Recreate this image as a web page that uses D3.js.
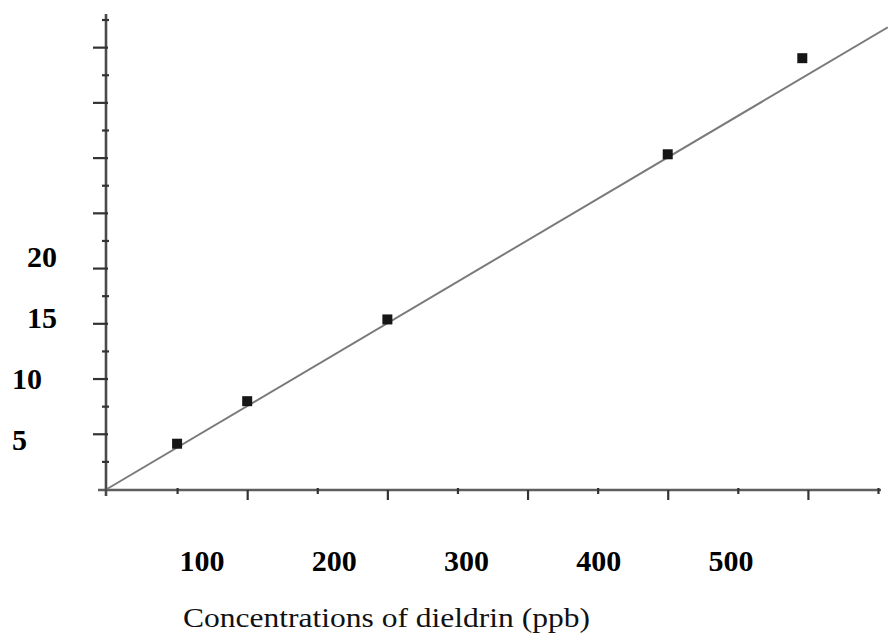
<!DOCTYPE html>
<html>
<head>
<meta charset="utf-8">
<script src="https://cdn.jsdelivr.net/npm/d3@7"></script>
<style>
  html, body { margin: 0; padding: 0; background: #fff; }
  svg { display: block; }
</style>
</head>
<body>
<svg id="chart" width="888" height="641"></svg>
<script>
// ---- data ----
const concentrations = [50, 100, 200, 400, 496];        // ppb
const responses      = [4.1, 7.95, 15.35, 30.3, 39.0];
const fitX = [0, 557];
const fitY = [0, 41.8];
const xMajorTicks = [100, 200, 300, 400, 500];
const xMinorTicks = [50, 150, 250, 350, 450, 550];
const yMajorTicks = [5, 10, 15, 20, 25, 30, 35, 40];
const yMinorTicks = [2.5, 7.5, 12.5, 17.5, 22.5, 27.5, 32.5, 37.5, 42.5];
const xTickLabels = ["100", "200", "300", "400", "500"];
const yTickLabels = ["20", "15", "10", "5"];
const xTitle = "Concentrations of dieldrin (ppb)";

// ---- scales ----
const svg = d3.select("#chart");
const x = d3.scaleLinear().domain([0, 550]).range([107, 878]);
const y = d3.scaleLinear().domain([0, 43]).range([489, 14]);
// the printed labels are offset from the tick marks in the original figure
const xLab = d3.scaleLinear().domain([100, 500]).range([202, 731]);
const yLab = d3.scaleLinear().domain([5, 20]).range([450, 267]);

const axisColor = "#4a4a4a";

// x axis line
svg.append("line")
  .attr("x1", x(0) - 9).attr("x2", x(550) + 3)
  .attr("y1", y(0) + 1).attr("y2", y(0) + 1)
  .attr("stroke", "#5e5e5e").attr("stroke-width", 2.6);

// y axis line
svg.append("line")
  .attr("x1", x(0) - 1).attr("x2", x(0) - 1)
  .attr("y1", y(43)).attr("y2", y(0) + 7)
  .attr("stroke", axisColor).attr("stroke-width", 2.6);

// x ticks
const xAxisMajor = svg.append("g")
  .attr("transform", `translate(0,${y(0) + 1})`)
  .call(d3.axisBottom(x).tickValues(xMajorTicks).tickSize(10).tickFormat(""));
const xAxisMinor = svg.append("g")
  .attr("transform", `translate(0,${y(0) - 1})`)
  .call(d3.axisBottom(x).tickValues(xMinorTicks).tickSize(6).tickFormat(""));

// y ticks
const yAxisMajor = svg.append("g")
  .attr("transform", `translate(${x(0) + 1},0)`)
  .call(d3.axisLeft(y).tickValues(yMajorTicks).tickSize(15).tickFormat(""));
const yAxisMinor = svg.append("g")
  .attr("transform", `translate(${x(0) + 2},0)`)
  .call(d3.axisLeft(y).tickValues(yMinorTicks).tickSize(7).tickFormat(""));

[xAxisMajor, xAxisMinor, yAxisMajor, yAxisMinor].forEach(g => {
  g.select(".domain").remove();
  g.selectAll(".tick line").attr("stroke", "#333").attr("stroke-width", 2.2);
});

// fit line
svg.append("path")
  .datum(fitX.map((v, i) => [v, fitY[i]]))
  .attr("fill", "none")
  .attr("stroke", "#7a7a7a")
  .attr("stroke-width", 2)
  .attr("d", d3.line().x(d => x(d[0])).y(d => y(d[1])));

// points
svg.selectAll("rect.pt")
  .data(concentrations.map((c, i) => ({c, r: responses[i]})))
  .join("rect")
  .attr("class", "pt")
  .attr("x", d => x(d.c) - 5)
  .attr("y", d => y(d.r) - 5)
  .attr("width", 10).attr("height", 10)
  .attr("fill", "#161616");

// x tick labels
svg.selectAll("text.xl")
  .data(xTickLabels)
  .join("text")
  .attr("class", "xl")
  .attr("x", d => xLab(+d))
  .attr("y", 571)
  .attr("text-anchor", "middle")
  .attr("font-family", "'Liberation Serif', 'Times New Roman', serif")
  .attr("font-weight", "bold")
  .attr("font-size", 30)
  .attr("fill", "#000")
  .text(d => d);

// y tick labels (staggered as in the original)
svg.selectAll("text.yl")
  .data(yTickLabels)
  .join("text")
  .attr("class", "yl")
  .attr("x", d => (+d >= 15 ? 27 : 12))
  .attr("y", d => yLab(+d))
  .attr("text-anchor", "start")
  .attr("font-family", "'Liberation Serif', 'Times New Roman', serif")
  .attr("font-weight", "bold")
  .attr("font-size", 30)
  .attr("fill", "#000")
  .text(d => d);

// x axis title
svg.append("text")
  .attr("x", 183)
  .attr("y", 627)
  .attr("text-anchor", "start")
  .attr("font-family", "'Liberation Serif', 'Times New Roman', serif")
  .attr("font-size", 28)
  .attr("textLength", 407)
  .attr("lengthAdjust", "spacingAndGlyphs")
  .attr("fill", "#111")
  .text(xTitle);
</script>
</body>
</html>
